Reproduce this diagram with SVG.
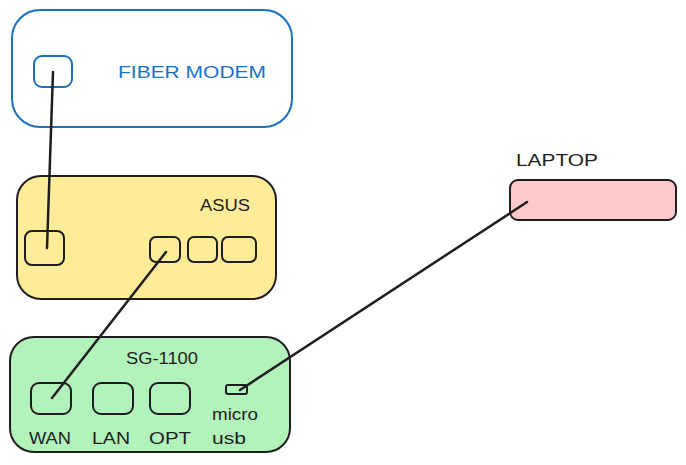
<svg xmlns="http://www.w3.org/2000/svg" width="686" height="465" viewBox="0 0 686 465">
<style>
.box{stroke:#1e1e1e;stroke-width:2;}
.port{fill:none;stroke:#1e1e1e;stroke-width:2;}
.lbl{font-family:"Liberation Sans",Arial,sans-serif;font-size:16px;fill:#1e1e1e;}
.wire{stroke:#1e1e1e;stroke-width:2.5;fill:none;stroke-linecap:round;}
</style>
<rect width="686" height="465" fill="#ffffff"/>
<g id="fiber-modem">
<rect x="12" y="10" width="280" height="117" rx="28" fill="#ffffff" stroke="#1971c2" stroke-width="2"/>
<rect x="34" y="56" width="38" height="31" rx="8" fill="none" stroke="#1971c2" stroke-width="2"/>
<text x="192" y="78" text-anchor="middle" class="lbl" style="fill:#1971c2" textLength="148" lengthAdjust="spacingAndGlyphs">FIBER MODEM</text>
</g>
<g id="asus">
<rect x="17" y="176" width="259" height="123" rx="24" fill="#ffec99" class="box"/>
<text x="225" y="211" text-anchor="middle" class="lbl" textLength="50" lengthAdjust="spacingAndGlyphs">ASUS</text>
<rect x="25" y="231" width="39" height="34" rx="7" class="port"/>
<rect x="150" y="237" width="30" height="25" rx="6" class="port"/>
<rect x="188" y="237" width="29" height="25" rx="6" class="port"/>
<rect x="222" y="237" width="34" height="25" rx="6" class="port"/>
</g>
<g id="sg-1100">
<rect x="10" y="337" width="280" height="115" rx="24" fill="#b2f2bb" class="box"/>
<text x="162" y="364" text-anchor="middle" class="lbl" textLength="72" lengthAdjust="spacingAndGlyphs">SG-1100</text>
<rect x="31" y="383" width="40" height="31" rx="8" class="port"/>
<rect x="93" y="383" width="40" height="31" rx="8" class="port"/>
<rect x="150" y="383" width="40" height="31" rx="8" class="port"/>
<rect x="226" y="385" width="21" height="9" rx="2" class="port"/>
<text x="50" y="444" text-anchor="middle" class="lbl" textLength="42" lengthAdjust="spacingAndGlyphs">WAN</text>
<text x="111" y="444" text-anchor="middle" class="lbl" textLength="38" lengthAdjust="spacingAndGlyphs">LAN</text>
<text x="170" y="444" text-anchor="middle" class="lbl" textLength="42" lengthAdjust="spacingAndGlyphs">OPT</text>
<text x="235" y="420" text-anchor="middle" class="lbl" textLength="46" lengthAdjust="spacingAndGlyphs">micro</text>
<text x="229" y="444" text-anchor="middle" class="lbl" textLength="34" lengthAdjust="spacingAndGlyphs">usb</text>
</g>
<g id="laptop">
<text x="557" y="166" text-anchor="middle" class="lbl" textLength="82" lengthAdjust="spacingAndGlyphs">LAPTOP</text>
<rect x="510" y="180" width="166" height="40" rx="8" fill="#ffc9c9" class="box"/>
</g>
<g id="connectors">
<line x1="53" y1="72" x2="47" y2="248" class="wire"/>
<line x1="166" y1="252" x2="52" y2="398" class="wire"/>
<line x1="527" y1="202" x2="240" y2="390" class="wire"/>
</g>
</svg>
